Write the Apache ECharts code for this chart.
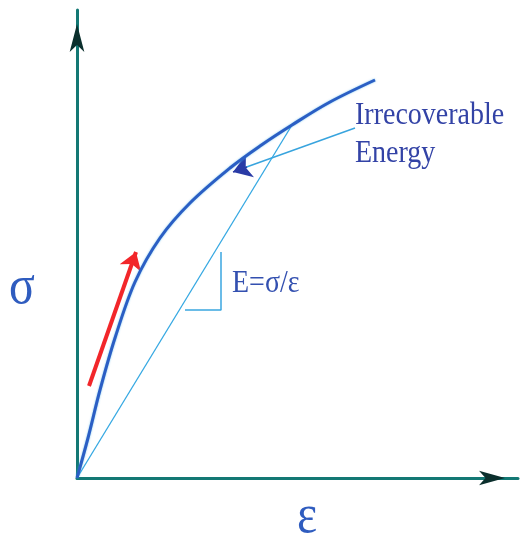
<!DOCTYPE html>
<html>
<head>
<meta charset="utf-8">
<script src="https://cdn.jsdelivr.net/npm/echarts@6/dist/echarts.min.js"></script>
<style>
  html, body { margin: 0; padding: 0; background: #fff; }
  #chart { width: 522px; height: 538px; }
</style>
</head>
<body>
<div id="chart"></div>
<script>
// Stress–strain loading curve (ε, σ) in arbitrary units
const loadingCurve = [
  [0, 0], [0.11, 40], [0.23, 88], [0.38, 140], [0.58, 196], [0.83, 240],
  [1.13, 275], [1.53, 310], [1.83, 332], [2.15, 353], [2.53, 376], [2.98, 398]
];
// Elastic unloading line back to the origin
const unloadLine = [[2.15, 353], [0, 0]];
// Slope triangle for E = σ/ε
const slopeTriangle = [[1.44, 226], [1.44, 168], [1.08, 168]];
// Loading-direction arrow
const loadArrow = [[0.12, 92], [0.59, 226]];
// Leader line for the annotation and its arrow head
const leaderLine = [[2.78, 350], [1.64, 309]];
const leaderHead = [[1.70, 311], [1.56, 306]];
// Axis ranges
const epsMax = 4.41;
const sigmaMax = 468;
// Text annotations: [text, ε, σ]
const labels = [
  { text: 'Irrecoverable', at: [2.78, 362], size: 28, align: 'left', color: '#3343a6' },
  { text: 'Energy', at: [2.78, 324], size: 28, align: 'left', color: '#3343a6' },
  { text: 'E=σ/ε', at: [1.55, 194], size: 28, align: 'left', color: '#3350b0' },
  { text: 'σ', at: [-0.55, 189], size: 48, align: 'center', color: '#2f5cbf' },
  { text: 'ε', at: [2.30, -40], size: 48, align: 'center', color: '#2f5cbf' }
];

const chart = echarts.init(document.getElementById('chart'), null, { renderer: 'canvas' });

const axisCommon = {
  type: 'value',
  splitLine: { show: false },
  axisTick: { show: false },
  axisLabel: { show: false }
};

// Teal axis lines, with dark arrow heads drawn by an overlaid axis pair
function xAxisDef(head) {
  return Object.assign({}, axisCommon, {
    min: 0, max: epsMax, position: 'bottom',
    axisLine: head
      ? { show: true, symbol: ['none', 'arrow'], symbolSize: [11, 26], symbolOffset: [0, -13],
          lineStyle: { color: '#0b2f2d', width: 0.01 } }
      : { show: true, lineStyle: { color: '#137874', width: 3 } }
  });
}
function yAxisDef(head) {
  return Object.assign({}, axisCommon, {
    min: 0, max: sigmaMax, position: 'left',
    axisLine: head
      ? { show: true, symbol: ['none', 'arrow'], symbolSize: [11, 28], symbolOffset: [0, -14],
          lineStyle: { color: '#0b2f2d', width: 0.01 } }
      : { show: true, lineStyle: { color: '#137874', width: 3 } }
  });
}

chart.setOption({
  animation: false,
  backgroundColor: '#ffffff',
  grid: { left: 77, right: 4, top: 10, bottom: 60 },
  xAxis: [xAxisDef(false), xAxisDef(true)],
  yAxis: [yAxisDef(false), yAxisDef(true)],
  series: [
    {
      type: 'line', data: unloadLine, showSymbol: false, silent: true,
      lineStyle: { color: '#35a8e2', width: 1.3 }
    },
    {
      type: 'line', data: loadingCurve, smooth: 0.35,
      showSymbol: false, silent: true,
      lineStyle: { color: '#2b5ec4', width: 3, shadowColor: 'rgba(60,170,230,0.7)', shadowBlur: 2 }
    },
    {
      type: 'line', data: slopeTriangle, showSymbol: false, silent: true,
      lineStyle: { color: '#3aa6e0', width: 1.5 }
    },
    {
      type: 'lines', coordinateSystem: 'cartesian2d', silent: true,
      symbol: ['none', 'arrow'], symbolSize: 17,
      lineStyle: { color: '#f2262a', width: 4, opacity: 1 },
      data: [{ coords: loadArrow }]
    },
    {
      type: 'lines', coordinateSystem: 'cartesian2d', silent: true,
      symbol: ['none', 'none'],
      lineStyle: { color: '#38a4de', width: 1.5, opacity: 1 },
      data: [{ coords: leaderLine }]
    },
    {
      type: 'lines', coordinateSystem: 'cartesian2d', silent: true,
      symbol: ['none', 'arrow'], symbolSize: 18,
      lineStyle: { color: '#2a3ba6', width: 1.5, opacity: 1 },
      data: [{ coords: leaderHead }]
    }
  ]
});

// Place annotation text at data positions
const graphics = labels.map(function (l) {
  const p = chart.convertToPixel({ gridIndex: 0 }, l.at);
  return {
    type: 'text',
    x: p[0], y: p[1],
    scaleY: 1.14,
    silent: true,
    style: {
      text: l.text,
      font: l.size + 'px "Liberation Serif", "Times New Roman", serif',
      fill: l.color,
      align: l.align,
      verticalAlign: 'middle'
    }
  };
});
chart.setOption({ graphic: graphics });
</script>
</body>
</html>
